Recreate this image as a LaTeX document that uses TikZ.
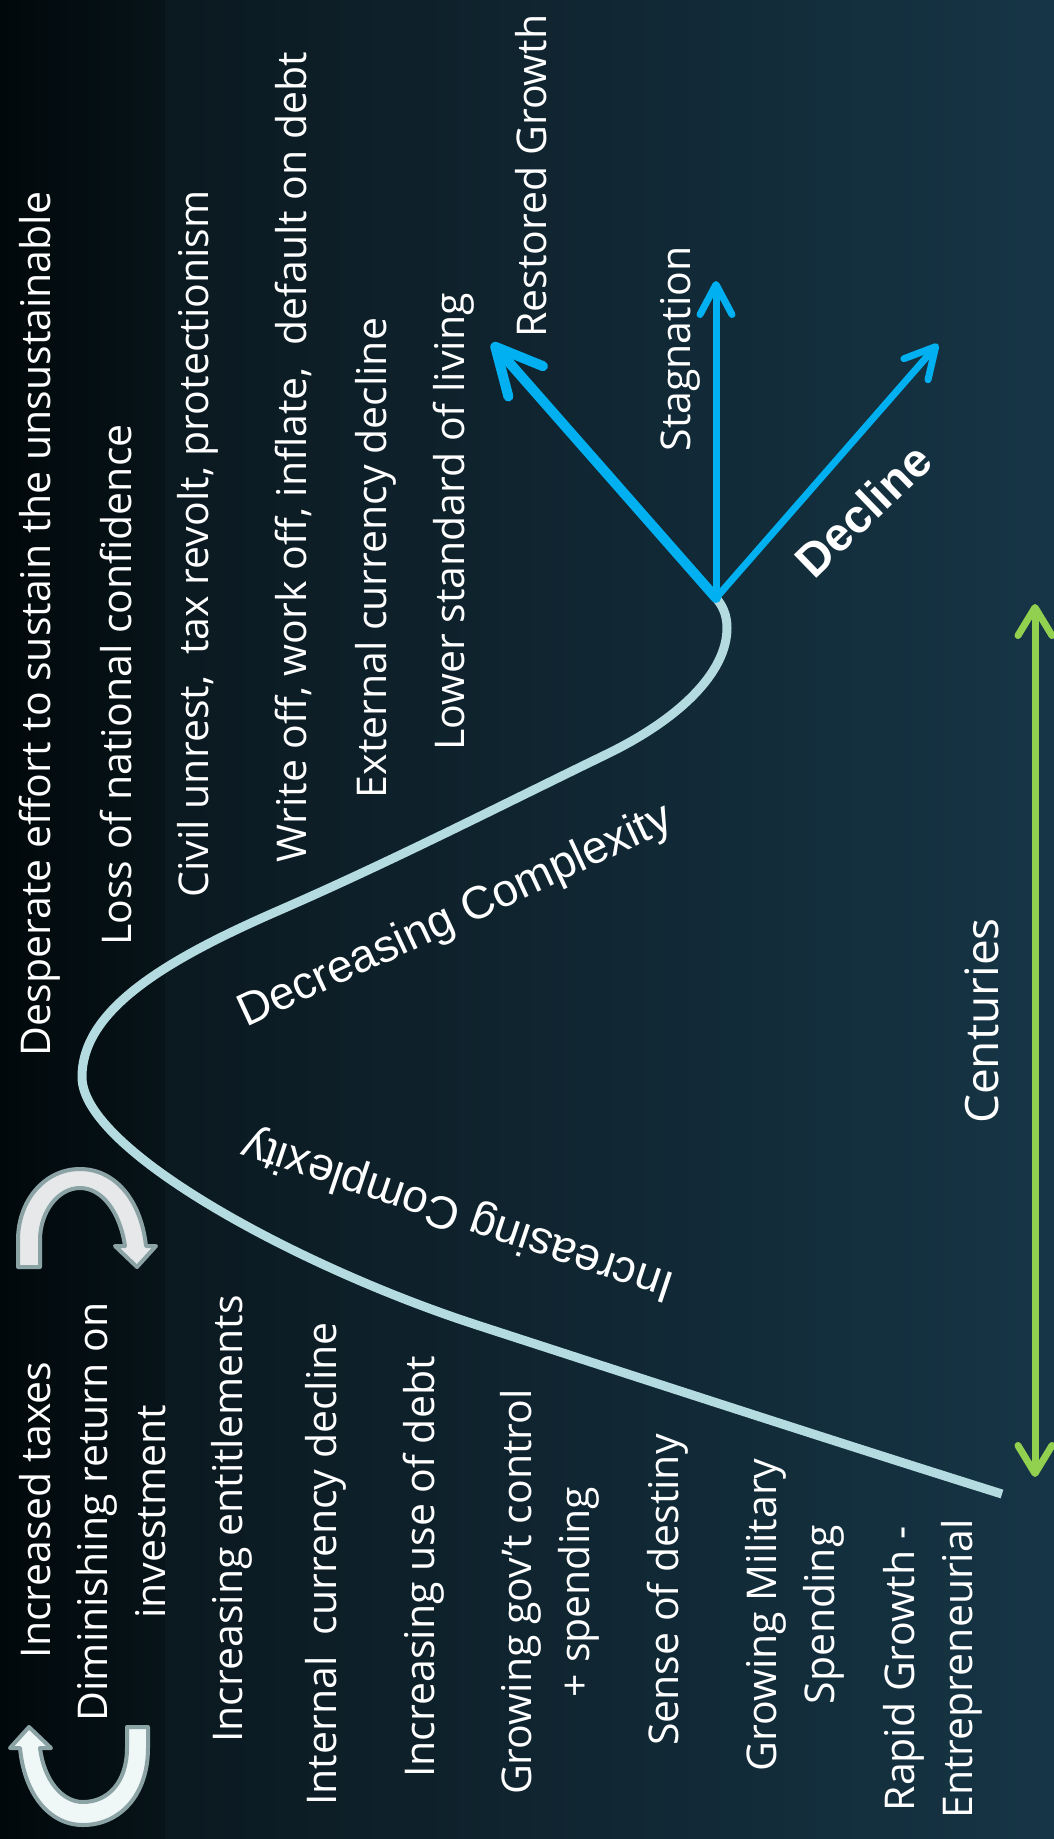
\documentclass[tikz,border=0pt]{standalone}
\usepackage{fontspec}
\usetikzlibrary{arrows.meta}
\newfontfamily\osans{Open Sans}
\newfontfamily\arialf{Liberation Sans}
\definecolor{curvecol}{HTML}{B4DCE0}
\definecolor{bluecol}{HTML}{00B0F0}
\definecolor{greencol}{HTML}{92D050}
\definecolor{cycgray}{HTML}{8CA3A6}
\definecolor{cyctop}{HTML}{E6E8E9}
\definecolor{cycbot}{HTML}{F0F7F7}
\definecolor{bgA}{HTML}{01080B}
\definecolor{bgB}{HTML}{071419}
\definecolor{bgC}{HTML}{0B1920}
\definecolor{bgD}{HTML}{163546}
\tikzset{
  vlbl/.style={text=white, font=\osans\fontsize{41}{49}\selectfont, inner sep=0pt, rotate=90, anchor=base},
  cxlbl/.style={text=white, font=\arialf\fontsize{46}{52}\selectfont, inner sep=0pt},
  bluethin/.style={draw=bluecol, line width=7pt, line cap=round, -{Straight Barb[length=30pt,width=32pt,round]}},
  bluethick/.style={draw=bluecol, line width=10pt, line cap=round, -{Straight Barb[length=46pt,width=46pt,round]}},
  greenarr/.style={draw=greencol, line width=7pt, {Straight Barb[length=28pt,width=34pt,round]}-{Straight Barb[length=28pt,width=34pt,round]}},
  cyc/.style={draw=cycgray, line width=4pt, line join=round},
}
\begin{document}
\begin{tikzpicture}[x=1pt,y=-1pt]
\useasboundingbox (0,0) rectangle (1054,1839);
\shade[left color=bgA, right color=bgB] (0,0) rectangle (165,1839);
\shade[left color=bgC, right color=bgD] (165,0) rectangle (1054,1839);

% main curve
\coordinate (cstart) at (1002,1494);
\coordinate (branch) at (716,598);
\draw[curvecol, line width=9pt] (cstart)
  .. controls (830,1440) and (640,1378) .. (480,1326)
  .. controls (300,1268) and (82,1150) .. (82,1077)
  .. controls (82,1010) and (165,960) .. (280,910)
  .. controls (390,862) and (500,806) .. (605,755)
  .. controls (680,719) and (727,672) .. (727,628)
  .. controls (727,614) and (722,605) .. (branch);

% branch arrows
\coordinate (rg) at (492,343);
\coordinate (stag) at (716,281);
\coordinate (decl) at (938,344);
\draw[bluethick] (branch) -- (rg);
\draw[bluethin] (branch) -- (stag);
\draw[bluethin] (branch) -- (decl);

% centuries arrow
\coordinate (ctop) at (1035,604);
\coordinate (cbot) at (1035,1477);
\draw[greenarr] (cbot) -- (ctop);

% cycle arrows
\filldraw[cyc, fill=cyctop] (18,1267) -- (18,1240) .. controls (18,1200) and (45,1169) .. (80,1169) .. controls (115,1169) and (141,1200) .. (146,1246) -- (156,1246) -- (137,1267) -- (115,1246) -- (125,1246) .. controls (120,1212) and (102,1188) .. (80,1188) .. controls (58,1188) and (40,1212) .. (40,1240) -- (40,1267) -- cycle;
\filldraw[cyc, fill=cycbot] (148,1727) -- (148,1748) .. controls (148,1795) and (120,1825) .. (83,1825) .. controls (48,1825) and (24,1792) .. (20,1748) -- (10,1748) -- (29,1727) -- (51,1748) -- (40,1748) .. controls (44,1780) and (62,1802) .. (83,1802) .. controls (108,1802) and (127,1782) .. (127,1748) -- (127,1727) -- cycle;

% lower text column
\node[vlbl] (t1) at (50,1510) {Increased taxes};
\node[vlbl] (t2) at (107,1512) {Diminishing return on};
\node[vlbl] (t3) at (165,1512) {investment};
\node[vlbl] (t4) at (242,1519) {Increasing entitlements};
\node[vlbl] (t5) at (336,1564) {Internal\ \ currency decline};
\node[vlbl] (t6) at (434,1567) {Increasing use of debt};
\node[vlbl] (t7) at (531,1592) {Growing gov’t control};
\node[vlbl] (t8) at (589,1592) {+ spending};
\node[vlbl] (t9) at (678,1590) {Sense of destiny};
\node[vlbl] (t10) at (776,1615) {Growing Military};
\node[vlbl] (t11) at (834,1615) {Spending};
\node[vlbl] (t12) at (914,1669) {Rapid Growth -};
\node[vlbl] (t13) at (972,1669) {Entrepreneurial};

% upper text column
\node[vlbl] (u1) at (50,624) {Desperate effort to sustain the unsustainable};
\node[vlbl] (u2) at (131,685) {Loss of national confidence};
\node[vlbl] (u3) at (208,544) {Civil unrest,\ \ tax revolt, protectionism};
\node[vlbl] (u4) at (306,457) {Write off, work off, inflate,\ \ default on debt};
\node[vlbl] (u5) at (386,558) {External currency decline};
\node[vlbl] (u6) at (464,522) {Lower standard of living};
\node[vlbl] (u7) at (546,176) {Restored Growth};
\node[vlbl] (u8) at (690,349) {Stagnation};
\node[vlbl, font=\osans\fontsize{46}{52}\selectfont] (cent) at (998,1021) {Centuries};

% slanted labels
\node[cxlbl, rotate=25] (dec) at (456,917) {Decreasing Complexity};
\node[cxlbl, rotate=161.5] (inc) at (458,1214) {Increasing Complexity};
\node[cxlbl, font=\arialf\bfseries\fontsize{47}{54}\selectfont, rotate=44] (decline) at (863,510) {Decline};
\end{tikzpicture}
\end{document}
